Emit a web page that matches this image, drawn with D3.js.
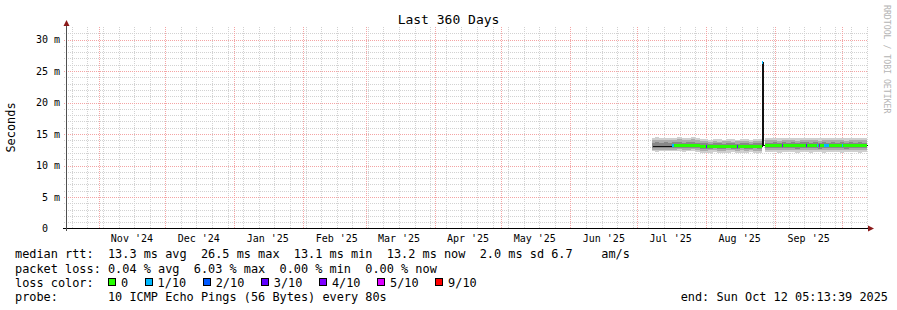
<!DOCTYPE html>
<html><head><meta charset="utf-8">
<script src="https://cdn.jsdelivr.net/npm/d3@7"></script>
<style>
body{margin:0;background:#fff}
svg{display:block}
text{font-family:"DejaVu Sans Mono",monospace;white-space:pre}
</style>
</head><body>
<svg id="c" width="897" height="310" xml:space="preserve"></svg>
<script>
// ---------------- data ----------------
const titleText = "Last 360 Days";
const yAxisTitle = "Seconds";
const watermark = "RRDTOOL / TOBI OETIKER";
const periodStart = "2024-10-17T20:00";
const periodEnd = "2025-10-12T05:13";
const yAxisMax = 32;               // ms
const yTicks = [0, 5, 10, 15, 20, 25, 30];
const yTickLabels = ["0  ", "5 m", "10 m", "15 m", "20 m", "25 m", "30 m"];
const monthTicks = ["2024-11-01","2024-12-01","2025-01-01","2025-02-01","2025-03-01","2025-04-01","2025-05-01","2025-06-01","2025-07-01","2025-08-01","2025-09-01"];
const monthLabels = ["Nov '24","Dec '24","Jan '25","Feb '25","Mar '25","Apr '25","May '25","Jun '25","Jul '25","Aug '25","Sep '25"];

const sampleTimes = [
 "2025-07-07T15:00","2025-07-09T00:00","2025-07-11T00:00","2025-07-13T00:00","2025-07-15T00:00",
 "2025-07-16T15:00","2025-07-19T00:00","2025-07-21T00:00","2025-07-23T00:00","2025-07-25T00:00","2025-07-27T00:00",
 "2025-07-29T00:00","2025-07-31T00:00","2025-08-02T00:00","2025-08-04T00:00","2025-08-06T00:00","2025-08-08T00:00","2025-08-10T00:00",
 "2025-08-12T00:00","2025-08-14T00:00","2025-08-16T00:00","2025-08-18T00:00","2025-08-20T00:00","2025-08-22T00:00","2025-08-24T00:00",
 "2025-08-25T20:00","2025-08-26T17:00","2025-08-27T10:00",
 "2025-08-29T00:00","2025-08-31T00:00","2025-09-02T00:00","2025-09-04T00:00","2025-09-06T00:00","2025-09-08T00:00","2025-09-10T00:00",
 "2025-09-12T00:00","2025-09-14T00:00","2025-09-16T00:00","2025-09-18T00:00","2025-09-20T00:00","2025-09-22T00:00","2025-09-24T00:00",
 "2025-09-26T00:00","2025-09-28T00:00","2025-09-30T00:00","2025-10-02T00:00","2025-10-04T00:00","2025-10-06T00:00","2025-10-08T00:00","2025-10-10T00:00"
];
// median rtt (ms)
const medianRtt = [
 13.0,13.0,13.0,13.0,13.0, 13.25,13.25,13.25,13.25,13.25,13.25,
 13.1,13.1,13.1,13.1,13.1,13.1,13.1, 13.1,13.1,13.1,13.1,13.1,13.1,13.1,
 26.3,13.2,13.2,
 13.2,13.25,13.2,13.2,13.25,13.2,13.2, 13.25,13.2,13.2,13.25,13.2,13.2,13.25, 13.2,13.2,13.25,13.2,13.2,13.25,13.2,13.2
];
// smoke bounds (ms): outer, middle and inner pairs of the sorted pings
const smokeHi = [
 14.4,14.5,14.35,14.45,14.4, 14.45,14.5,14.4,14.45,14.5,14.4,
 14.15,14.2,14.1,14.2,14.15,14.1,14.2, 14.15,14.1,14.2,14.15,14.1,14.2,14.15,
 26.5,null,14.35,
 14.35,14.4,14.3,14.45,14.35,14.4,14.3, 14.4,14.45,14.35,14.4,14.3,14.45,14.35, 14.4,14.35,14.45,14.3,14.4,14.35,14.4,14.35
];
const smokeHiMid = [
 14.05,14.1,14.0,14.1,14.05, 14.1,14.15,14.05,14.1,14.15,14.05,
 13.85,13.85,13.8,13.85,13.8,13.85,13.85, 13.8,13.85,13.9,13.85,13.8,13.85,13.85,
 25.0,null,14.0,
 14.0,14.05,13.95,14.1,14.0,14.05,13.95, 14.05,14.1,14.0,14.05,13.95,14.1,14.0, 14.05,14.0,14.1,13.95,14.05,14.0,14.05,14.0
];
const smokeHiIn = [
 13.65,13.7,13.6,13.7,13.65, 13.7,13.75,13.65,13.7,13.75,13.65,
 13.5,13.5,13.45,13.5,13.5,13.45,13.5, 13.5,13.45,13.55,13.5,13.45,13.5,13.5,
 21.0,null,13.65,
 13.65,13.7,13.6,13.7,13.65,13.7,13.6, 13.7,13.75,13.65,13.7,13.6,13.75,13.65, 13.7,13.65,13.7,13.6,13.7,13.65,13.7,13.65
];
const smokeLoIn = [
 12.8,12.75,12.8,12.8,12.75, 12.8,12.85,12.8,12.8,12.85,12.8,
 12.7,12.7,12.7,12.75,12.7,12.7,12.75, 12.7,12.7,12.75,12.7,12.7,12.75,12.7,
 15.5,null,12.75,
 12.75,12.8,12.75,12.75,12.8,12.75,12.7, 12.8,12.75,12.75,12.8,12.7,12.75,12.8, 12.75,12.75,12.8,12.7,12.75,12.8,12.75,12.75
];
const smokeLoMid = [
 12.5,12.45,12.5,12.5,12.5, 12.5,12.55,12.5,12.5,12.55,12.5,
 12.35,12.35,12.4,12.4,12.35,12.35,12.4, 12.4,12.35,12.4,12.35,12.4,12.35,12.35,
 14.0,null,12.45,
 12.45,12.5,12.45,12.4,12.5,12.45,12.4, 12.5,12.45,12.45,12.5,12.4,12.45,12.5, 12.45,12.4,12.5,12.45,12.45,12.5,12.45,12.45
];
const smokeLo = [
 12.3,12.2,12.3,12.25,12.3, 12.25,12.3,12.2,12.25,12.3,12.2,
 12.05,12.0,12.05,12.1,12.05,12.0,12.05, 12.1,12.05,12.0,12.05,12.1,12.05,12.0,
 13.1,null,12.1,
 12.1,12.15,12.05,12.1,12.15,12.1,12.05, 12.15,12.1,12.05,12.1,12.15,12.05,12.1, 12.15,12.1,12.05,12.1,12.15,12.1,12.05,12.1
];
// loss colour class per sample (index into lossColors, null = none)
const lossClass = [
 null,null,null,null,null, 0,0,0,0,0,0,
 0,0,0,0,0,0,0, 0,0,0,0,0,0,0,
 1,null,0,
 0,0,0,0,0,0,0, 0,0,0,0,0,0,0, 0,0,0,0,0,0,0,0
];
// short loss events
const lossEventTimes = ["2025-07-16T15:00","2025-07-31T20:00","2025-08-15T00:00","2025-09-04T00:00","2025-09-15T00:00","2025-09-19T15:00","2025-09-20T12:00","2025-09-22T20:00","2025-09-24T00:00","2025-10-01T00:00"];
const lossEventHours = [21, 10, 10, 10, 10, 10, 10, 18, 24, 10];
const lossEventClass = [1, 3, 3, 4, 3, 1, 4, 1, 1, 1];

const lossColors = ["#26ff00","#00b8ff","#0059ff","#5e00ff","#7e00ff","#dd00ff","#ff0000"];
const lossLabels = ["0","1/10","2/10","3/10","4/10","5/10","9/10"];

const legendRtt  = "median rtt:  13.3 ms avg  26.5 ms max  13.1 ms min  13.2 ms now  2.0 ms sd 6.7    am/s";
const legendLoss = "packet loss: 0.04 % avg  6.03 % max  0.00 % min  0.00 % now";
const legendColorTitle = "loss color:";
const legendProbe = "probe:       10 ICMP Echo Pings (56 Bytes) every 80s";
const legendEnd = "end: Sun Oct 12 05:13:39 2025";

// ---------------- drawing ----------------
const svg = d3.select("#c");
const P = d3.timeParse("%Y-%m-%dT%H:%M");
const PD = d3.timeParse("%Y-%m-%d");
const t0 = P(periodStart), t1 = P(periodEnd);
const L = 67, R = 867, B = 228.5, T = 27;
const x = d3.scaleTime().domain([t0, t1]).range([L, R]);
const y = d3.scaleLinear().domain([0, yAxisMax]).range([B, T]);
const px = v => Math.round(x(v));
const pyc = v => Math.floor(y(v)) + 0.5;   // pixel centre

const gGrid = svg.append("g").attr("shape-rendering","crispEdges");
const MINOR = "#d2d2d2", MAJOR = "#f4a4a4";
// minor horizontal grid (1 ms)
const minorY = d3.range(1, yAxisMax).filter(v => v % 5 !== 0);
gGrid.selectAll(".hy").data(minorY).enter().append("line")
  .attr("x1", L-3).attr("x2", R).attr("y1", d => Math.round(y(d))+0.5).attr("y2", d => Math.round(y(d))+0.5)
  .attr("stroke", MINOR).attr("stroke-dasharray","1,1");
// weekly vertical grid
const weeks = d3.timeSunday.range(t0, t1);
gGrid.selectAll(".wx").data(weeks).enter().append("line")
  .attr("x1", d => px(d)+0.5).attr("x2", d => px(d)+0.5).attr("y1", T).attr("y2", B)
  .attr("stroke", MINOR).attr("stroke-dasharray","1,1");
// major horizontal grid
gGrid.selectAll(".my").data(yTicks.filter(v => v > 0)).enter().append("line")
  .attr("x1", L-3).attr("x2", R).attr("y1", d => Math.round(y(d))+0.5).attr("y2", d => Math.round(y(d))+0.5)
  .attr("stroke", MAJOR).attr("stroke-dasharray","1,1");
// major vertical grid (months)
const months = d3.timeMonth.range(t0, t1);
gGrid.selectAll(".mx").data(months).enter().append("line")
  .attr("x1", d => px(d)+0.5).attr("x2", d => px(d)+0.5).attr("y1", T).attr("y2", B)
  .attr("stroke", MAJOR).attr("stroke-dasharray","1,1");

// samples as steps
const samples = sampleTimes.map((s, i) => ({
  a: P(s), b: i + 1 < sampleTimes.length ? P(sampleTimes[i+1]) : t1,
  med: medianRtt[i], lo: smokeLo[i], loM: smokeLoMid[i], loI: smokeLoIn[i],
  hiI: smokeHiIn[i], hiM: smokeHiMid[i], hi: smokeHi[i], loss: lossClass[i]
}));
const pts = samples.flatMap(s => [{t: s.a, s}, {t: s.b, s}]);
const gData = svg.append("g");
function smoke(k0, k1, color){
  gData.append("path").attr("fill", color).attr("shape-rendering","crispEdges")
    .attr("d", d3.area().defined(p => p.s[k0] != null)
      .x(p => px(p.t)).y0(p => Math.round(y(p.s[k0]))).y1(p => Math.round(y(p.s[k1])))(pts));
}
smoke("lo","hi","#cfcfcf");
smoke("loM","hiM","#ababab");
smoke("loI","hiI","#888888");
// median line (dark)
gData.append("path").attr("fill","none").attr("stroke","#111").attr("stroke-width",1)
  .attr("shape-rendering","crispEdges")
  .attr("d", d3.line().defined(p => p.s.med != null).x(p => px(p.t) + 0.5).y(p => pyc(p.s.med))(pts));
// loss-coloured median band (3 px)
lossColors.forEach((c, k) => {
  gData.append("path").attr("fill", c).attr("shape-rendering","crispEdges")
    .attr("d", d3.area().defined(p => p.s.loss === k)
      .x(p => px(p.t)).y0(p => pyc(p.s.med) + 1.5).y1(p => pyc(p.s.med) - 1.5)(pts));
});
// short loss events
function medAt(t){ const s = samples.find(s => t >= s.a && t < s.b); return s ? s.med : null; }
lossEventTimes.forEach((ts, i) => {
  const a = P(ts), b = d3.timeHour.offset(a, lossEventHours[i]);
  const m = medAt(a);
  gData.append("rect").attr("x", px(a)).attr("width", Math.max(1, px(b) - px(a)))
    .attr("y", pyc(m) - 1.5).attr("height", 3).attr("fill", lossColors[lossEventClass[i]])
    .attr("shape-rendering","crispEdges");
});

// axes
const gAx = svg.append("g").attr("shape-rendering","crispEdges");
gAx.append("line").attr("x1", 63).attr("x2", 869).attr("y1", B).attr("y2", B).attr("stroke","#000");
gAx.append("line").attr("x1", 66.5).attr("x2", 66.5).attr("y1", 231).attr("y2", 24).attr("stroke","#505050");
svg.append("path").attr("fill","#8b1a1a").attr("d","M63.5,26 L66.5,20 L69.5,26 Z");
svg.append("path").attr("fill","#8b1a1a").attr("d","M868,225.5 L874,228.5 L868,231.5 Z");

// y labels
svg.selectAll(".yl").data(yTicks).enter().append("text")
  .attr("x", 60).attr("y", d => y(d) + 3.6).attr("text-anchor","end")
  .attr("font-size","10px").attr("fill","#000")
  .text((d, i) => yTickLabels[i]);
// x labels at month middle
svg.selectAll(".xl").data(monthTicks).enter().append("text")
  .attr("x", d => x(d3.timeDay.offset(PD(d), 15))).attr("y", 241.5).attr("text-anchor","middle")
  .attr("font-size","10px").attr("fill","#000")
  .text((d, i) => monthLabels[i]);

// title, axis title, watermark
svg.append("text").attr("x", 448.5).attr("y", 23.5).attr("text-anchor","middle")
  .attr("font-size","13px").text(titleText);
svg.append("text").attr("transform","translate(15,127.5) rotate(-90)").attr("text-anchor","middle")
  .attr("font-size","11.9px").text(yAxisTitle);
svg.append("text").attr("transform","translate(884,5) rotate(90)").attr("text-anchor","start")
  .attr("font-size","8.2px").attr("fill","#b4b4b4").text(watermark);

// legend
const FS = "11.88px", X0 = 15, CW = 7.15;
const base = [258.3, 272.5, 286.7, 301];
svg.append("text").attr("x", X0).attr("y", base[0]).attr("font-size", FS).text(legendRtt);
svg.append("text").attr("x", X0).attr("y", base[1]).attr("font-size", FS).text(legendLoss);
svg.append("text").attr("x", X0).attr("y", base[2]).attr("font-size", FS).text(legendColorTitle);
svg.append("text").attr("x", X0).attr("y", base[3]).attr("font-size", FS).text(legendProbe);
svg.append("text").attr("x", 888).attr("y", base[3]).attr("text-anchor","end").attr("font-size", FS).text(legendEnd);
let bx = X0 + 13 * CW;
lossLabels.forEach((lab, i) => {
  svg.append("rect").attr("x", Math.round(bx) + 0.5).attr("y", 278.5).attr("width", 7).attr("height", 7)
    .attr("fill", lossColors[i]).attr("stroke","#000").attr("shape-rendering","crispEdges");
  svg.append("text").attr("x", bx + 13).attr("y", base[2]).attr("font-size", FS).text(lab);
  bx += 13 + lab.length * CW + 16.5;
});
</script>
</body></html>
